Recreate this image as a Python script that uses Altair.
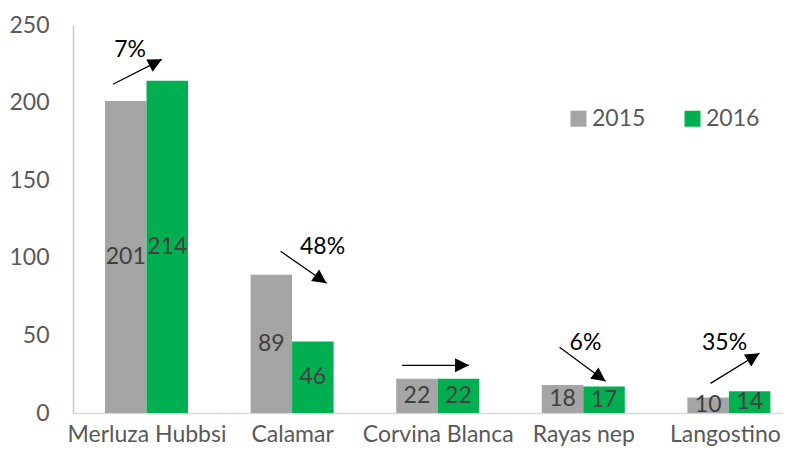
import math
import altair as alt
import pandas as pd

categories = ["Merluza Hubbsi", "Calamar", "Corvina Blanca", "Rayas nep", "Langostino"]
years = ["2015", "2016"]
v2015 = [201, 89, 22, 18, 10]
v2016 = [214, 46, 22, 17, 14]

# change annotations (arrow tail -> tip, in category-index / value units)
pct_text = ["7%", "48%", "", "6%", "35%"]
pct_x = [-0.113, 1.209, 2.0, 3.015, 3.970]
pct_y = [233.7, 106.8, 40.0, 44.9, 44.9]
arr_x0 = [-0.230, 0.921, 1.755, 2.837, 3.874]
arr_y0 = [211.8, 104.2, 30.7, 42.3, 19.1]
arr_x1 = [0.106, 1.237, 2.215, 3.153, 4.210]
arr_y1 = [227.9, 83.6, 30.7, 20.4, 38.5]

W, H = 710, 388
XDOM = [-0.5048, 4.3716]
YDOM = [0, 250]
BW = 0.285  # bar width in category units

rows = []
for i, c in enumerate(categories):
    rows.append({"cat": c, "year": "2015", "value": v2015[i], "x0": i - BW, "x1": i, "xm": i - BW / 2})
    rows.append({"cat": c, "year": "2016", "value": v2016[i], "x0": i, "x1": i + BW, "xm": i + BW / 2})
bars_df = pd.DataFrame(rows)
bars_df["half"] = bars_df["value"] / 2
bars_df["base"] = 0

xpx = W / (XDOM[1] - XDOM[0])
ypx = H / (YDOM[1] - YDOM[0])
arr_rows = []
for i in range(len(categories)):
    dx = (arr_x1[i] - arr_x0[i]) * xpx
    dy = -(arr_y1[i] - arr_y0[i]) * ypx
    ang = math.degrees(math.atan2(dy, dx)) % 360
    arr_rows.append({"x0": arr_x0[i], "y0": arr_y0[i], "x1": arr_x1[i], "y1": arr_y1[i],
                     "ang": ang, "tx": pct_x[i], "ty": pct_y[i], "t": pct_text[i]})
arr_df = pd.DataFrame(arr_rows)

FONT = "Lato"
FS = 23
xscale = alt.Scale(domain=XDOM, nice=False, zero=False)
yscale = alt.Scale(domain=YDOM, nice=False)

label_expr = "[" + ",".join("'" + c + "'" for c in categories) + "][datum.value]"
last = len(categories) - 1

bars = alt.Chart(bars_df).mark_bar().encode(
    x=alt.X("x0:Q", scale=xscale, title=None,
            axis=alt.Axis(values=list(range(len(categories))), labelExpr=label_expr,
                          grid=False, ticks=False, domainColor="#d9d9d9", domainWidth=1.5,
                          labelFontSize=FS, labelColor="#595959", labelFont=FONT,
                          labelPadding=10, labelFlush=False, labelOverlap=False,
                          labelOffset={"condition": {"test": f"datum.value == {last}", "value": -4},
                                       "value": 0})),
    x2="x1:Q",
    y=alt.Y("value:Q", scale=yscale, title=None,
            axis=alt.Axis(values=[0, 50, 100, 150, 200, 250], grid=False, ticks=False,
                          domainColor="#c8c8c8", domainWidth=1.5, labelFlush=False,
                          labelFontSize=FS, labelColor="#595959", labelFont=FONT,
                          labelPadding=24)),
    y2="base:Q",
    color=alt.Color("year:N", scale=alt.Scale(domain=years, range=["#a5a5a5", "#00b050"]),
                    legend=alt.Legend(title=None, orient="none", direction="horizontal",
                                      legendX=494, legendY=82, symbolType="square",
                                      symbolSize=256, symbolStrokeWidth=0, labelFontSize=FS,
                                      labelFont=FONT, labelColor="#595959", columnPadding=35,
                                      labelOffset=2, padding=0)),
)

vals = alt.Chart(bars_df).mark_text(fontSize=FS, font=FONT, color="#404040", baseline="middle").encode(
    x=alt.X("xm:Q", scale=xscale), y=alt.Y("half:Q", scale=yscale), text="value:Q")

shafts = alt.Chart(arr_df).mark_rule(color="black", strokeWidth=1.3).encode(
    x=alt.X("x0:Q", scale=xscale), x2="x1:Q", y=alt.Y("y0:Q", scale=yscale), y2="y1:Q")

heads = alt.Chart(arr_df).mark_point(shape="M0,0L-1,-0.5L-1,0.5Z", filled=True, color="black",
                                     size=780, opacity=1).encode(
    x=alt.X("x1:Q", scale=xscale), y=alt.Y("y1:Q", scale=yscale),
    angle=alt.Angle("ang:Q", scale=None))

pcts = alt.Chart(arr_df).mark_text(fontSize=FS, font=FONT, color="black", baseline="middle").encode(
    x=alt.X("tx:Q", scale=xscale), y=alt.Y("ty:Q", scale=yscale), text="t:N")

chart = alt.layer(bars, vals, shafts, heads, pcts).properties(
    width=W, height=H,
    autosize=alt.AutoSizeParams(type="none"),
    padding={"left": 65, "top": 17, "right": 0, "bottom": 35},
).configure_view(stroke=None)

chart.save("out.html", embed_options={"renderer": "svg", "actions": False})
